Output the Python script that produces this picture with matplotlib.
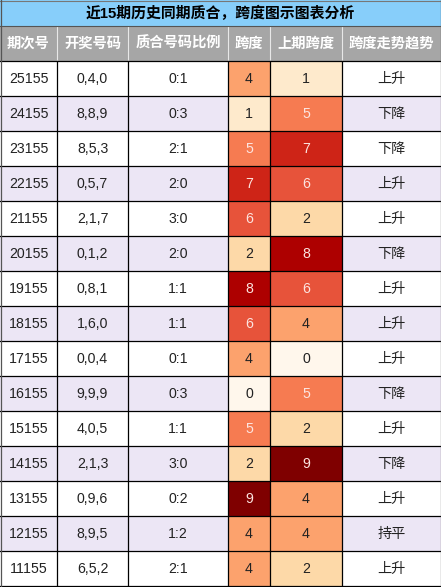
import matplotlib
matplotlib.use("Agg")
from matplotlib import pyplot as plt
from matplotlib.patches import Rectangle

plt.rcParams['font.family'] = ['Liberation Sans', 'Noto Sans CJK SC', 'DejaVu Sans']

# table data
title = '近15期历史同期质合，跨度图示图表分析'
headers = ['期次号', '开奖号码', '质合号码比例', '跨度', '上期跨度', '跨度走势趋势']
periods = ['25155', '24155', '23155', '22155', '21155', '20155', '19155', '18155',
           '17155', '16155', '15155', '14155', '13155', '12155', '11155']
draws = ['0,4,0', '8,8,9', '8,5,3', '0,5,7', '2,1,7', '0,1,2', '0,8,1', '1,6,0',
         '0,0,4', '9,9,9', '4,0,5', '2,1,3', '0,9,6', '8,9,5', '6,5,2']
ratios = ['0:1', '0:3', '2:1', '2:0', '3:0', '2:0', '1:1', '1:1',
          '0:1', '0:3', '1:1', '3:0', '0:2', '1:2', '2:1']
spans = [4, 1, 5, 7, 6, 2, 8, 6, 4, 0, 5, 2, 9, 4, 4]
prev_spans = [1, 5, 7, 6, 2, 8, 6, 4, 0, 5, 2, 9, 4, 4, 2]
trends = ['上升', '下降', '下降', '上升', '上升', '下降', '上升', '上升',
          '上升', '下降', '上升', '下降', '上升', '持平', '上升']

W, H = 441, 587
col_x = [0, 57, 128, 228, 270, 342, 441]
title_h = 26
head_bot = 61
row_h = 35

fig = plt.figure(figsize=(W / 100, H / 100), dpi=100)
ax = fig.add_axes([0, 0, 1, 1])
ax.set_xlim(0, W)
ax.set_ylim(H, 0)
ax.axis('off')

cmap = plt.cm.OrRd

# title row
ax.add_patch(Rectangle((0, 0), W, title_h, facecolor='#87CEFA', edgecolor='none'))
ax.text(W / 2, title_h / 2 + 0.5, title, ha='center', va='center', fontsize=10.7,
        fontweight='bold', color='black')

# header row
ax.add_patch(Rectangle((0, title_h), W, head_bot - title_h, facecolor='#A6A6A6', edgecolor='none'))
for i, h in enumerate(headers):
    xc = (col_x[i] + col_x[i + 1]) / 2
    ax.text(xc, (title_h + head_bot) / 2, h, ha='center', va='center', fontsize=10.3,
            fontweight='bold', color='white')
for x in col_x[1:-1]:
    ax.plot([x, x], [title_h, head_bot], color='#E8E8E8', lw=0.8)

# body rows
for r in range(len(periods)):
    y0 = head_bot + r * row_h
    yc = y0 + row_h / 2
    bg = 'white' if r % 2 == 0 else '#ECE6F5'
    ax.add_patch(Rectangle((0, y0), W, row_h, facecolor=bg, edgecolor='none'))
    for c, v in ((3, spans[r]), (4, prev_spans[r])):
        ax.add_patch(Rectangle((col_x[c], y0), col_x[c + 1] - col_x[c], row_h,
                               facecolor=cmap(v / 9), edgecolor='none'))
    vals = [periods[r], draws[r], ratios[r], str(spans[r]), str(prev_spans[r]), trends[r]]
    for c, t in enumerate(vals):
        xc = (col_x[c] + col_x[c + 1]) / 2
        color = '#222222'
        if c == 3 and spans[r] >= 5:
            color = '#FCE4E0'
        if c == 4 and prev_spans[r] >= 5:
            color = '#FCE4E0'
        ax.text(xc, yc + 0.5, t, ha='center', va='center', fontsize=10.2, color=color)

# grid lines
for r in range(len(periods) + 1):
    y = head_bot + r * row_h
    ax.plot([0, W], [y, y], color='black', lw=0.9)
for x in col_x[1:-1]:
    ax.plot([x, x], [head_bot, head_bot + len(periods) * row_h], color='black', lw=0.9)
ax.plot([0, W], [title_h, title_h], color='#555555', lw=0.8)
ax.plot([0, W], [0.5, 0.5], color='#777777', lw=0.8)
ax.plot([0.5, 0.5], [0, H], color='#555555', lw=0.9)
ax.plot([W - 0.5, W - 0.5], [0, H], color='#555555', lw=0.9)

fig.savefig('out.png', dpi=100)
